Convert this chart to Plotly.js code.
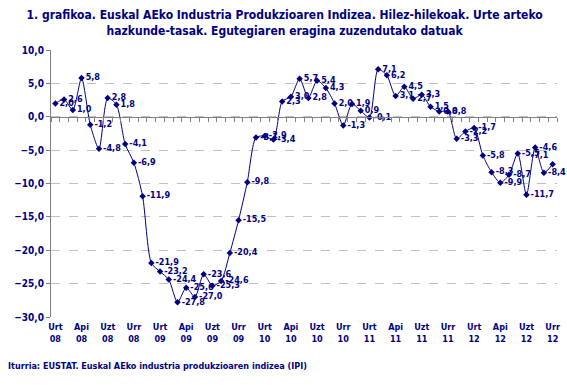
<!DOCTYPE html>
<html>
<head>
<meta charset="utf-8">
<script src="https://cdn.plot.ly/plotly-3.0.1.min.js"></script>
<style>html,body{margin:0;padding:0;background:#fff}#chart{width:567px;height:385px}</style>
</head>
<body>
<div id="chart"></div>
<script>
// Months Jan 2008 – Oct 2012 (Basque abbreviations)
var monthNames = ["Urt","Ots","Mar","Api","Mai","Eka","Uzt","Abu","Ira","Urr","Aza","Abe"];
var years = ["08","09","10","11","12"];
var months = [];
years.forEach(function(y){ monthNames.forEach(function(m){ months.push(m + " " + y); }); });
months = months.slice(0, 58);

// Year-on-year growth rates (%)
var values2008 = [2.0, 2.6, 1.0, 5.8, -1.2, -4.8, 2.8, 1.8, -4.1, -6.9, -11.9, -21.9];
var values2009 = [-23.2, -24.4, -27.8, -25.6, -27.0, -23.6, -25.3, -24.6, -20.4, -15.5, -9.8, -3.1];
var values2010 = [-2.9, -3.4, 2.3, 3.0, 5.7, 2.8, 5.4, 4.3, 2.0, -1.3, 1.9, 0.9];
var values2011 = [-0.1, 7.1, 6.2, 3.1, 4.5, 2.7, 3.3, 1.5, 0.8, 0.8, -3.3, -2.2];
var values2012 = [-1.7, -5.8, -8.3, -9.9, -8.7, -5.5, -11.7, -4.6, -8.4, -7.1];
var values = values2008.concat(values2009, values2010, values2011, values2012);

var tickMonths = ["Urt 08","Api 08","Uzt 08","Urr 08","Urt 09","Api 09","Uzt 09","Urr 09",
                  "Urt 10","Api 10","Uzt 10","Urr 10","Urt 11","Api 11","Uzt 11","Urr 11",
                  "Urt 12","Api 12","Uzt 12","Urr 12"];
var tickText = tickMonths.map(function(t){ return t.replace(" ", "<br>"); });

var titleText = "1. grafikoa. Euskal AEko Industria Produkzioaren Indizea. Hilez-hilekoak. Urte arteko<br>hazkunde-tasak. Egutegiaren eragina zuzendutako datuak";
var sourceText = "Iturria: EUSTAT. Euskal AEko industria produkzioaren indizea (IPI)";

var navy = "#000080";
var fontFam = "DejaVu Sans Condensed, DejaVu Sans, sans-serif";

var labels = values.map(function(v){ return v.toFixed(1).replace(".", ","); });
var labelPos = values.map(function(v, i){ return i === values.length - 1 ? "top left" : "middle right"; });
var boundaries = [];
for (var i = 0; i <= months.length; i++) boundaries.push(i);

var traces = [{
  x: months, y: values, type: "scatter", mode: "lines+markers+text",
  text: labels, textposition: labelPos,
  textfont: {family: fontFam, size: 9, color: navy, weight: "bold"},
  line: {color: navy, width: 1, shape: "spline", smoothing: 0.7},
  marker: {symbol: "diamond", size: 5, color: navy},
  cliponaxis: false, hoverinfo: "skip"
}, {
  x: [0], y: [0], xaxis: "x2", type: "scatter", mode: "markers",
  marker: {opacity: 0}, hoverinfo: "skip", showlegend: false
}];

var layout = {
  width: 567, height: 385,
  margin: {l: 51, r: 10, t: 50, b: 68},
  paper_bgcolor: "#fff", plot_bgcolor: "#fff",
  showlegend: false,
  title: {text: titleText, xref: "container", x: 0.502, xanchor: "center", yref: "container", y: 0.95, yanchor: "top",
          font: {family: fontFam, size: 12, color: navy, weight: "bold"}},
  xaxis: {type: "category", categoryorder: "array", categoryarray: months,
          range: [-0.5, months.length - 0.5],
          tickmode: "array", tickvals: tickMonths, ticktext: tickText,
          showgrid: false, zeroline: false, showline: false, ticks: "",
          ticklabelstandoff: 3,
          tickfont: {family: fontFam, size: 9, color: navy, weight: "bold"}},
  xaxis2: {overlaying: "x", anchor: "free", position: 0.75, range: [0, months.length],
           tickmode: "array", tickvals: boundaries, showticklabels: false,
           showline: true, linecolor: "#808080", linewidth: 1,
           ticks: "outside", ticklen: 4, tickcolor: "#808080", showgrid: false, zeroline: false},
  yaxis: {range: [-30, 10], dtick: 5, tick0: 0, tickformat: ".1f",
          showgrid: true, gridcolor: "#c0c0c0", griddash: "dash", gridwidth: 1,
          zeroline: false, showline: true, linecolor: "#808080", linewidth: 1,
          ticks: "outside", ticklen: 4, tickcolor: "#808080",
          tickfont: {family: fontFam, size: 10, color: navy, weight: "bold"}},
  separators: ",.",
  annotations: [{text: sourceText, xref: "paper", yref: "paper", x: -0.089, y: -0.185,
                 xanchor: "left", yanchor: "middle", showarrow: false,
                 font: {family: fontFam, size: 9, color: navy, weight: "bold"}}]
};

Plotly.newPlot("chart", traces, layout, {staticPlot: true, displayModeBar: false});
</script>
</body>
</html>
